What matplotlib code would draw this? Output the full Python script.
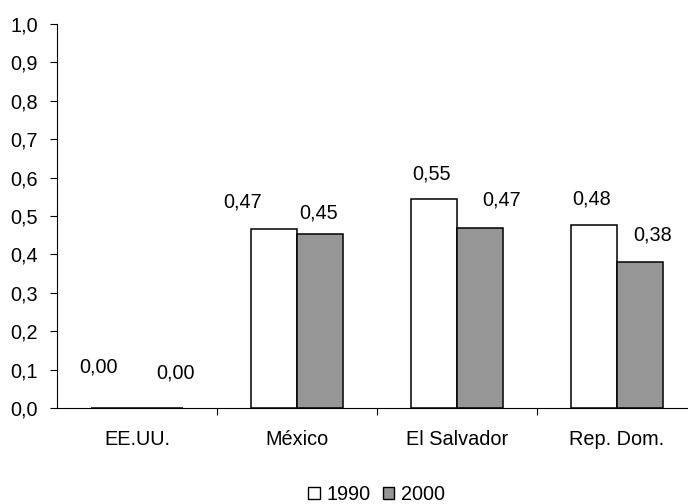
import matplotlib
matplotlib.use("Agg")
import matplotlib.pyplot as plt
from matplotlib.patches import Patch

categories = ["EE.UU.", "México", "El Salvador", "Rep. Dom."]
values_1990 = [0.0, 0.465, 0.545, 0.477]
values_2000 = [0.0, 0.452, 0.469, 0.381]
series_names = ["1990", "2000"]
yticks = [0.0, 0.1, 0.2, 0.3, 0.4, 0.5, 0.6, 0.7, 0.8, 0.9, 1.0]

# label offsets in pixels (dx, dy) relative to bar top center
off_1990 = [(-15, 41), (-31, 27), (-2, 25), (-2, 26)]
off_2000 = [(16, 35), (-1, 21), (22, 28), (12.5, 27)]

plt.rcParams['font.family'] = ['Liberation Sans', 'DejaVu Sans']
FS = 14.3
W, H = 688, 504
fig = plt.figure(figsize=(W / 100, H / 100), dpi=100)
left, bottom, top = 57, 408, 24
cat_w = 160
ax = fig.add_axes([left / W, (H - bottom) / H, 4 * cat_w / W, (bottom - top) / H])

bw = 46 / 160
x = list(range(len(categories)))
b1 = ax.bar([i - bw / 2 for i in x], values_1990, width=bw, color="white",
            edgecolor="black", linewidth=1.1)
b2 = ax.bar([i + bw / 2 for i in x], values_2000, width=bw, color="#969696",
            edgecolor="black", linewidth=1.1)

def fmt(v):
    return f"{v:.2f}".replace(".", ",")

for bars, vals, offs in ((b1, values_1990, off_1990), (b2, values_2000, off_2000)):
    for bar, v, (dx, dy) in zip(bars, vals, offs):
        ax.annotate(fmt(v), (bar.get_x() + bar.get_width() / 2, v),
                    xytext=(dx, dy), textcoords='offset pixels',
                    ha='center', va='center', fontsize=FS)

ax.set_xlim(-0.5, 3.5)
ax.set_ylim(0, 1.0)
ax.set_yticks(yticks)
ax.set_yticklabels([f"{t:.1f}".replace(".", ",") for t in yticks], fontsize=FS)
ax.set_xticks(x)
ax.set_xticklabels(categories, fontsize=FS)
ax.tick_params(axis='x', length=0, pad=15.5)
ax.set_xticks([0.5, 1.5, 2.5], minor=True)
ax.tick_params(axis='x', which='minor', length=5, width=0.8, direction='out')
ax.tick_params(axis='y', length=5, width=0.8, direction='out', pad=8.5)
for s in ('top', 'right'):
    ax.spines[s].set_visible(False)
ax.spines['left'].set_linewidth(0.8)
ax.spines['bottom'].set_linewidth(0.8)
ax.spines['left'].set_bounds(0, 1.0)

handles = [Patch(facecolor="white", edgecolor="black", linewidth=1.0),
           Patch(facecolor="#969696", edgecolor="black", linewidth=1.0)]
fig.legend(handles, series_names, loc='center', bbox_to_anchor=(376.5 / W, 1 - 494.5 / H),
           ncol=2, frameon=False, fontsize=FS, handlelength=0.6, handleheight=0.6,
           handletextpad=0.35, columnspacing=0.6, borderpad=0)

fig.savefig("out.png", dpi=100)
